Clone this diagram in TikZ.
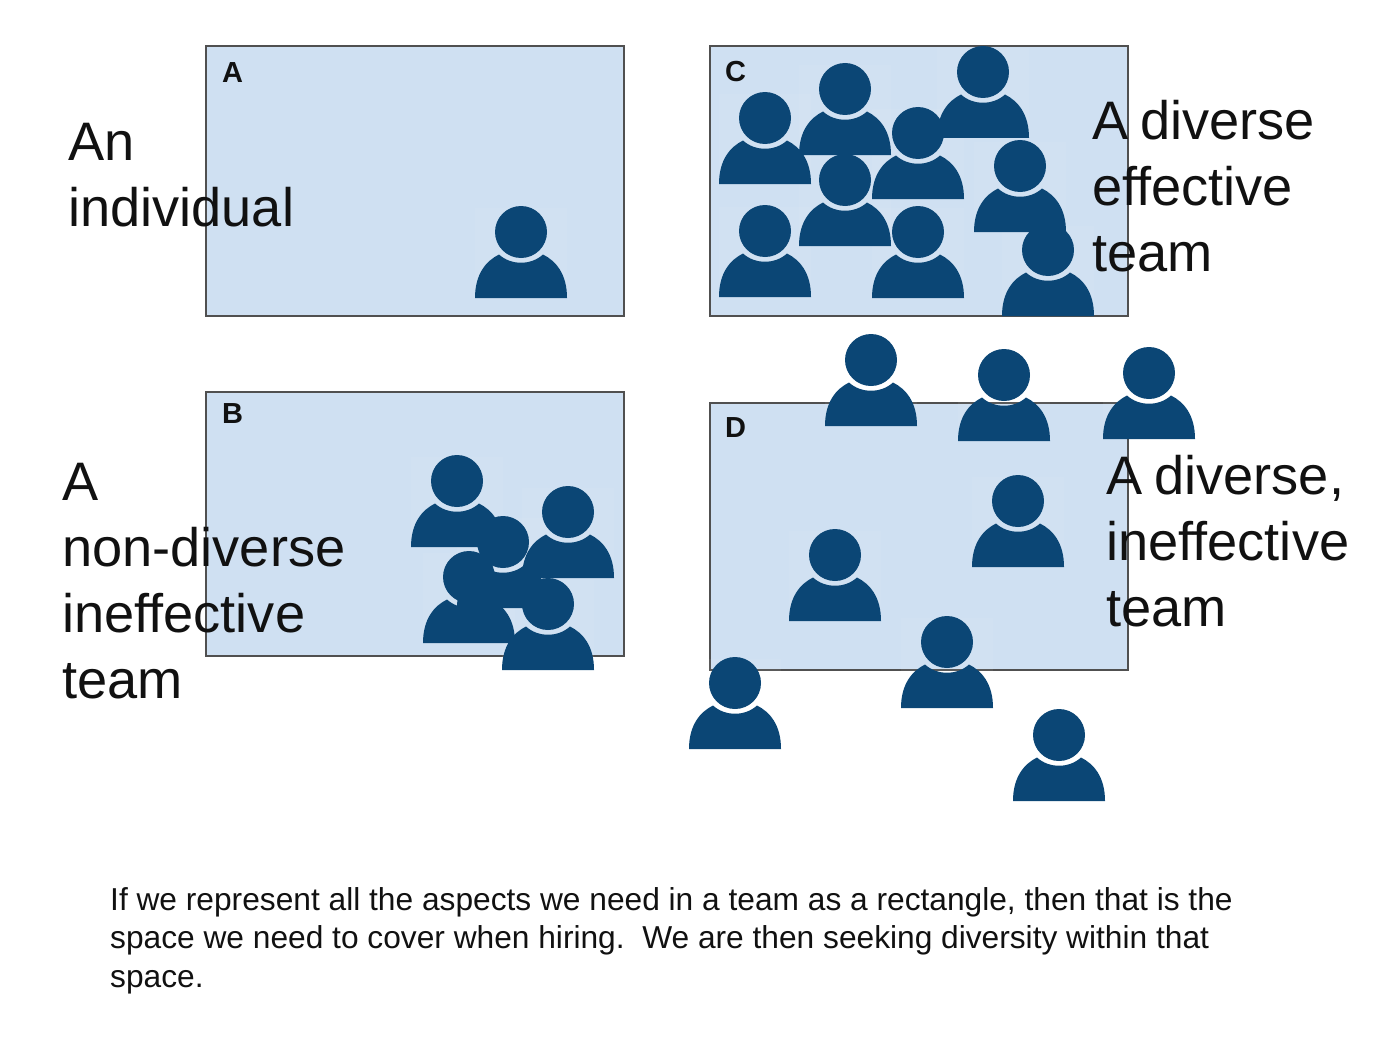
\documentclass[tikz,border=0pt]{standalone}
\usepackage{fontspec}
\setmainfont{Liberation Sans}
\definecolor{panelblue}{HTML}{CFE0F2}
\definecolor{personblue}{HTML}{0B4675}
\definecolor{panelline}{HTML}{505050}
\definecolor{inktext}{HTML}{111111}
\newcommand{\crowdB}{457/481, 568/512, 503/542, 469/577, 548/604}
\newcommand{\crowdC}{765/118, 845/89, 918/133, 983/72, 1020/166, 845/180, 765/231, 918/232, 1048/250}
\newcommand{\crowdD}{871/360, 1004/375, 1149/373, 1018/501, 835/555, 947/642, 735/683, 1059/735}
\tikzset{
	panel/.style={draw=panelline, line width=1.5pt, fill=panelblue, inner sep=0pt, outer sep=0pt, anchor=north west},
	tag/.style={inner sep=0pt, anchor=base west, font=\fontsize{29}{30}\selectfont\bfseries, text=inktext},
	bigtext/.style={inner sep=0pt, anchor=north west, align=left, text=inktext, font=\fontsize{54.2}{66}\selectfont},
	smalltext/.style={inner sep=0pt, anchor=north west, align=left, text=inktext, font=\fontsize{31.7}{38.5}\selectfont},
	personback/.pic={
		\fill[white, opacity=0.06] (-46,-24) rectangle (46,66);
	},
	person/.pic={
		\fill[personblue] (0,0) circle (26);
		\fill[personblue] (-46,66) .. controls (-46,42) and (-35,29) .. (-22,22.5)
			.. controls (-10,33.5) and (10,33.5) .. (22,22.5)
			.. controls (35,29) and (46,42) .. (46,66) -- cycle;
	}
}
\begin{document}
\begin{tikzpicture}[x=1pt, y=-1pt]
	\useasboundingbox (0,0) rectangle (1386,1054);

	% Draw the panels
	\node[panel, minimum width=418pt, minimum height=270pt] (panelA) at (206,46) {};
	\node[panel, minimum width=418pt, minimum height=270pt] (panelC) at (710,46) {};
	\node[panel, minimum width=418pt, minimum height=264pt] (panelB) at (206,392) {};
	\node[panel, minimum width=418pt, minimum height=267pt] (panelD) at (710,403) {};

	% Faint squares behind the people
	\pic at (521,232) {personback};
	\foreach \px/\py in \crowdB
		\pic at (\px,\py) {personback};
	\foreach \px/\py in \crowdC
		\pic at (\px,\py) {personback};
	\foreach \px/\py in \crowdD
		\pic at (\px,\py) {personback};

	% Draw the people in each panel
	\pic (pa) at (521,232) {person};
	\foreach \px/\py [count=\i] in \crowdB
		\pic (pb\i) at (\px,\py) {person};
	\foreach \px/\py [count=\i] in \crowdC
		\pic (pc\i) at (\px,\py) {person};
	\foreach \px/\py [count=\i] in \crowdD
		\pic (pd\i) at (\px,\py) {person};

	% Panel letters
	\node[tag] (tagA) at (222,83) {A};
	\node[tag] (tagB) at (222,423) {B};
	\node[tag] (tagC) at (725,82) {C};
	\node[tag] (tagD) at (725,437) {D};

	% Captions
	\node[bigtext] (textA) at (68,123) {An\\individual};
	\node[bigtext] (textB) at (62,463) {A\\non-diverse\\ineffective\\team};
	\node[bigtext] (textC) at (1092,100) {A\kern-3pt\ diverse\\effective\\team};
	\node[bigtext] (textD) at (1106,455) {A\kern-3pt\ diverse,\\ineffective\\team};
	\node[smalltext] (note) at (110,887) {If we represent all the aspects we need in a team as a rectangle, then that is the\\space we need to cover when hiring.\ \ We are then seeking diversity within that\\space.};
\end{tikzpicture}
\end{document}
